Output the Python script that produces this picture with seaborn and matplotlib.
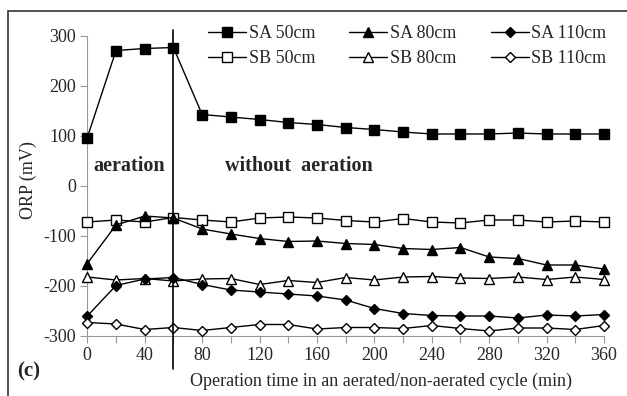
import matplotlib.pyplot as plt
import matplotlib.patches as mpatches
import pandas as pd
import seaborn as sns

# operation time (min)
time_min = [0, 20, 40, 60, 80, 100, 120, 140, 160, 180, 200, 220, 240, 260, 280, 300, 320, 340, 360]

# ORP values (mV)
sa_50 = [97, 271, 275, 277, 143, 138, 133, 127, 123, 117, 113, 108, 104, 104, 104, 106, 104, 104, 104]
sa_80 = [-155, -78, -60, -64, -86, -96, -105, -111, -110, -115, -117, -125, -127, -123, -142, -145, -158, -158, -166]
sa_110 = [-260, -199, -186, -183, -197, -208, -212, -216, -220, -228, -245, -255, -259, -260, -260, -264, -258, -260, -257]
sb_50 = [-72, -68, -72, -63, -68, -72, -64, -62, -64, -69, -72, -65, -72, -74, -68, -68, -72, -70, -72]
sb_80 = [-182, -188, -185, -190, -186, -185, -197, -189, -193, -183, -188, -182, -181, -184, -185, -182, -187, -182, -187]
sb_110 = [-273, -276, -287, -283, -289, -283, -277, -277, -286, -283, -283, -285, -279, -285, -290, -284, -284, -287, -279]

series = {
    'SA 50cm': (sa_50, 's', 'black', 7.5),
    'SB 50cm': (sb_50, 's', 'white', 7.5),
    'SA 80cm': (sa_80, '^', 'black', 7.5),
    'SB 80cm': (sb_80, '^', 'white', 7.5),
    'SA 110cm': (sa_110, 'D', 'black', 5.5),
    'SB 110cm': (sb_110, 'D', 'white', 5.5),
}

sns.set_style('white')
plt.rcParams['font.family'] = ['Liberation Serif', 'DejaVu Serif']
plt.rcParams['font.size'] = 13
plt.rcParams['axes.unicode_minus'] = False

fig = plt.figure(figsize=(6.27, 3.96), dpi=100)
ax = fig.add_axes([87.3 / 627, 1 - 336 / 396, (604 - 87.3) / 627, 300 / 396])

for name, (vals, mk, face, ms) in series.items():
    df = pd.DataFrame({'t': time_min, 'orp': vals})
    sns.lineplot(data=df, x='t', y='orp', ax=ax, color='black', linewidth=1.0,
                 marker=mk, markersize=ms, markerfacecolor=face,
                 markeredgecolor='black', markeredgewidth=1.0,
                 label=name, clip_on=False, zorder=3)

ax.set_xlim(0, 360)
ax.set_ylim(-300, 300)
ax.set_xticks(range(0, 361, 20))
ax.set_xticklabels([str(t) if t % 40 == 0 else '' for t in range(0, 361, 20)])
ax.set_yticks(range(-300, 301, 100))
ax.tick_params(axis='both', direction='out', length=5, width=0.8, color='#999999',
               labelsize=13, pad=3, bottom=True, left=True)
for s in ['top', 'right']:
    ax.spines[s].set_visible(False)
for s in ['left', 'bottom']:
    ax.spines[s].set_color('#999999')
    ax.spines[s].set_linewidth(0.8)
ax.set_xlabel('')
ax.set_ylabel('')

# aeration boundary
ax.plot([60, 60], [312, -365], color='black', linewidth=1.2, clip_on=False, zorder=4)

ax.text(4.5, 40, 'aeration', fontsize=14.5, fontweight='bold', va='center', ha='left')
ax.text(96, 40, 'without  aeration', fontsize=14.5, fontweight='bold', va='center', ha='left')

fig.text(381 / 627, 1 - 381 / 396, 'Operation time in an aerated/non-aerated cycle (min)',
         ha='center', va='center', fontsize=13)
fig.text(28 / 627, 1 - 180 / 396, 'ORP (mV)', rotation=90, ha='center', va='center', fontsize=13)
fig.text(17 / 627, 1 - 371 / 396, '(c)', fontsize=15, fontweight='bold', ha='left', va='center')

ax.legend(ncol=3, loc='upper left', bbox_to_anchor=(208 / 627, 1 - 25 / 396),
          bbox_transform=fig.transFigure, frameon=False, fontsize=13,
          handlelength=2.1, handletextpad=0.15, columnspacing=1.9,
          labelspacing=0.45, borderpad=0, borderaxespad=0)

# outer frame of the panel
fig.patches.append(mpatches.Rectangle((7.5 / 627, -0.1), 1.2, 1 - 11 / 396 + 0.1,
                                      transform=fig.transFigure, fill=False,
                                      edgecolor='#333333', linewidth=1.2))

fig.savefig('out.png', dpi=100)
